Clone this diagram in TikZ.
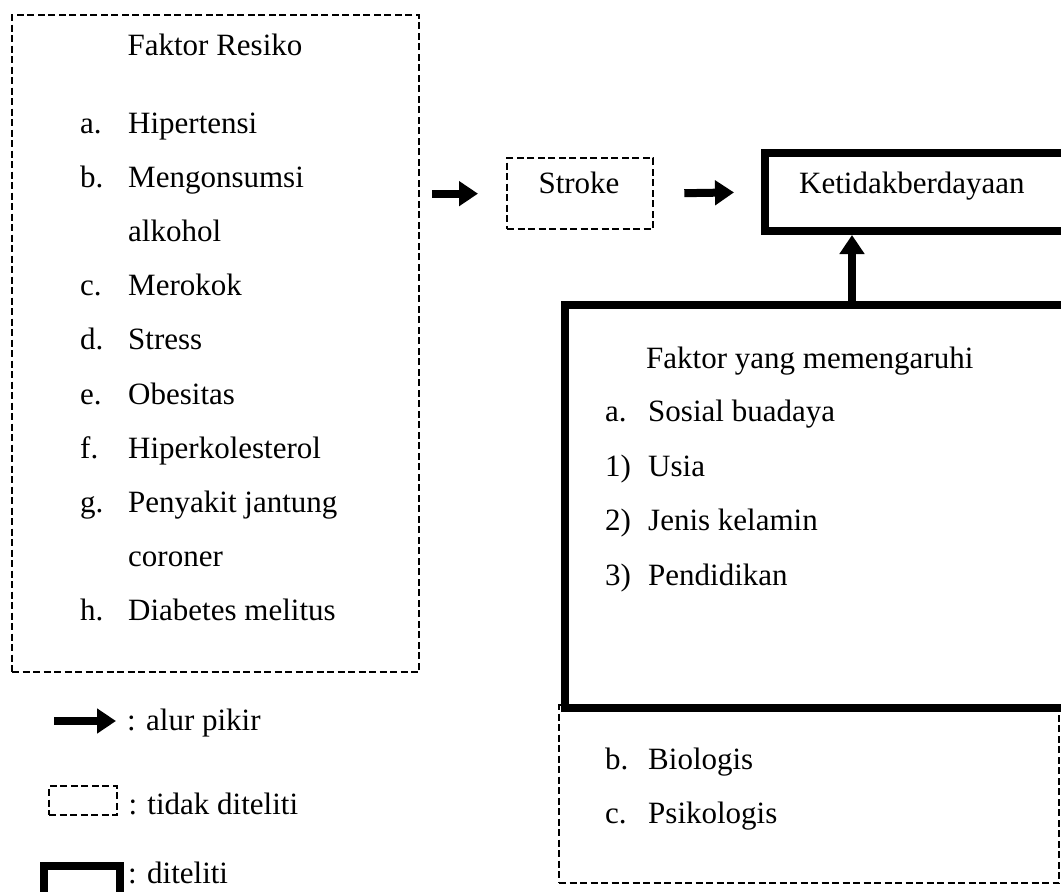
\documentclass[tikz,border=0pt]{standalone}
\usepackage{fontspec}
\setmainfont{Liberation Serif}
\usetikzlibrary{arrows.meta,positioning}

\tikzset{
  txt/.style={inner sep=0pt, anchor=base west, font=\fontsize{31}{37}\selectfont},
  dashbox/.style={draw, line width=2.3pt, dash pattern=on 7pt off 3.5pt, inner sep=0pt},
  thickbox/.style={draw, line width=8pt, inner sep=0pt},
  flow/.style={line width=8pt, -{Triangle[length=19pt,width=24pt]}},
}

\begin{document}
\begin{tikzpicture}[x=1pt, y=-1pt]
  \useasboundingbox (0,0) rectangle (1061,892);

  % faktor resiko
  \node[dashbox, anchor=north west, minimum width=407pt, minimum height=657pt] (risk) at (11,14) {};
  \node[txt, anchor=base] (riskhead) at (215,55) {Faktor Resiko};
  \foreach \l/\t [count=\i] in {a./Hipertensi, b./Mengonsumsi, {}/alkohol, c./Merokok,
      d./Stress, e./Obesitas, f./Hiperkolesterol, g./Penyakit jantung, {}/coroner, h./Diabetes melitus} {
    \node[txt] (riskl\i) at (80,133+54.2*\i-54.2) {\l};
    \node[txt] (riskt\i) at (128,133+54.2*\i-54.2) {\t};
  }

  % stroke dan ketidakberdayaan
  \node[dashbox, anchor=north west, minimum width=146pt, minimum height=71pt] (stroke) at (506,157) {};
  \node[txt, anchor=base] (stroketxt) at (579,193) {Stroke};
  \node[thickbox, anchor=north west, minimum width=301pt, minimum height=78pt] (ketid) at (761,149) {};
  \node[txt] (ketidtxt) at (799,193) {Ketidakberdayaan};

  % faktor yang memengaruhi
  \node[dashbox, anchor=north west, minimum width=500pt, minimum height=178pt] (bio) at (558,704) {};
  \node[thickbox, anchor=north west, minimum width=501pt, minimum height=403pt] (infl) at (561,301) {};
  \node[txt] (inflhead) at (646,368) {Faktor yang memengaruhi};
  \foreach \l/\t [count=\i] in {a./Sosial buadaya, 1)/Usia, 2)/Jenis kelamin, 3)/Pendidikan} {
    \node[txt] (infll\i) at (605,367+54.5*\i) {\l};
    \node[txt] (inflt\i) at (648,367+54.5*\i) {\t};
  }
  \node[txt] (biol1) at (605,769) {b.};
  \node[txt] (biot1) at (648,769) {Biologis};
  \node[txt] (biol2) at (605,823) {c.};
  \node[txt] (biot2) at (648,823) {Psikologis};

  % alur
  \draw[flow, shorten <=12pt, shorten >=28pt] (risk.east |- stroke.west) -- (stroke.west);
  \draw[flow, shorten <=30pt, shorten >=27pt] (stroke.east) -- (ketid.west);
  \draw[flow] (infl.north -| 852,0) -- (ketid.south -| 852,0);

  % keterangan
  \coordinate (keyarrow) at (54,721);
  \node[txt] (keyflow) at (127,730) {: alur pikir};
  \draw[flow] (keyarrow) -- (keyflow.west |- keyarrow) [shorten >=11pt];
  \node[dashbox, anchor=north west, minimum width=68pt, minimum height=29pt] (keydash) at (48,785) {};
  \node[txt, right=10pt of keydash.east, anchor=west, yshift=-3pt] (keydashtxt) {: tidak diteliti};
  \node[thickbox, anchor=north west, minimum width=76pt, minimum height=50pt] (keythick) at (40,862) {};
  \node[txt] (keythicktxt) at (128,883) {: diteliti};
\end{tikzpicture}
\end{document}
